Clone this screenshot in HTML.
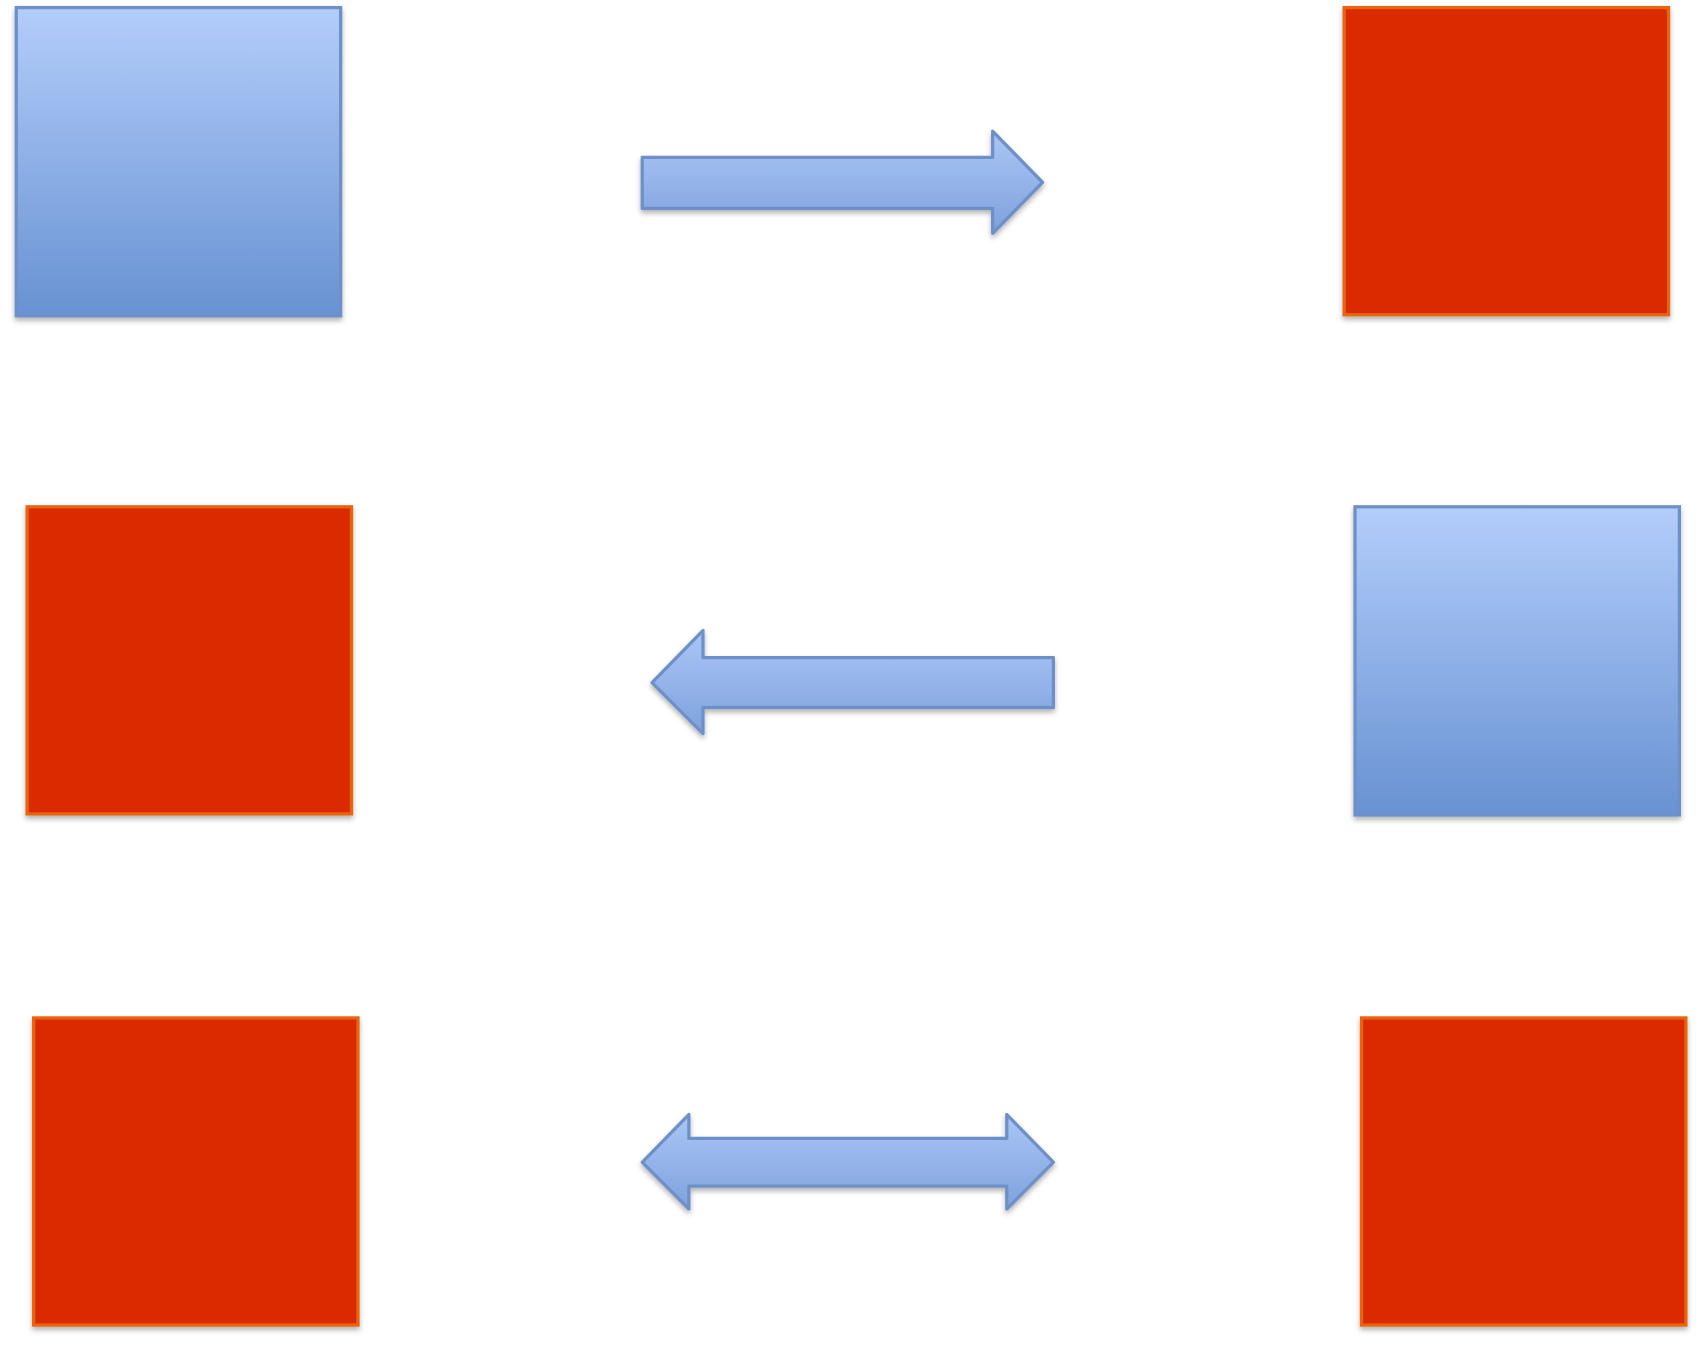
<!DOCTYPE html>
<html><head><meta charset="utf-8"><style>html,body{margin:0;padding:0;background:#fff}svg{display:block}</style></head>
<body>
<svg width="1700" height="1350" viewBox="0 0 1567 1244" preserveAspectRatio="none">
<defs>
<linearGradient id="bg" x1="0" y1="0" x2="0" y2="1"><stop offset="0" stop-color="#b3cdfb"/><stop offset="1" stop-color="#6892d2"/></linearGradient>
<linearGradient id="ag" x1="0" y1="0" x2="0" y2="1"><stop offset="0" stop-color="#abc6f6"/><stop offset="1" stop-color="#7ea2dc"/></linearGradient>
<filter id="sh" x="-10%" y="-10%" width="130%" height="130%"><feDropShadow dx="0" dy="3" stdDeviation="2.5" flood-color="#000" flood-opacity="0.3"/></filter>
</defs>
<g filter="url(#sh)" stroke-width="3">
<rect x="15" y="7" width="299" height="284" fill="url(#bg)" stroke="#6d90c9"/>
<rect x="1239" y="7" width="299" height="283" fill="#dc2a00" stroke="#e8650f"/>
<rect x="25" y="467" width="299" height="283" fill="#dc2a00" stroke="#e8650f"/>
<rect x="1249" y="467" width="299" height="284" fill="url(#bg)" stroke="#6d90c9"/>
<rect x="31" y="938" width="299" height="283" fill="#dc2a00" stroke="#e8650f"/>
<rect x="1255" y="938" width="299" height="283" fill="#dc2a00" stroke="#e8650f"/>
<polygon points="592,145 915,145 915,121 961,168 915,215 915,192 592,192" fill="url(#ag)" stroke="#6d90c9" stroke-linejoin="round"/>
<polygon points="971,606 648,606 648,581 601,629 648,676 648,652 971,652" fill="url(#ag)" stroke="#6d90c9" stroke-linejoin="round"/>
<polygon points="592,1071 635,1027 635,1049 928,1049 928,1027 971,1071 928,1114 928,1093 635,1093 635,1114" fill="url(#ag)" stroke="#6d90c9" stroke-linejoin="round"/>
</g>
</svg>
</body></html>
